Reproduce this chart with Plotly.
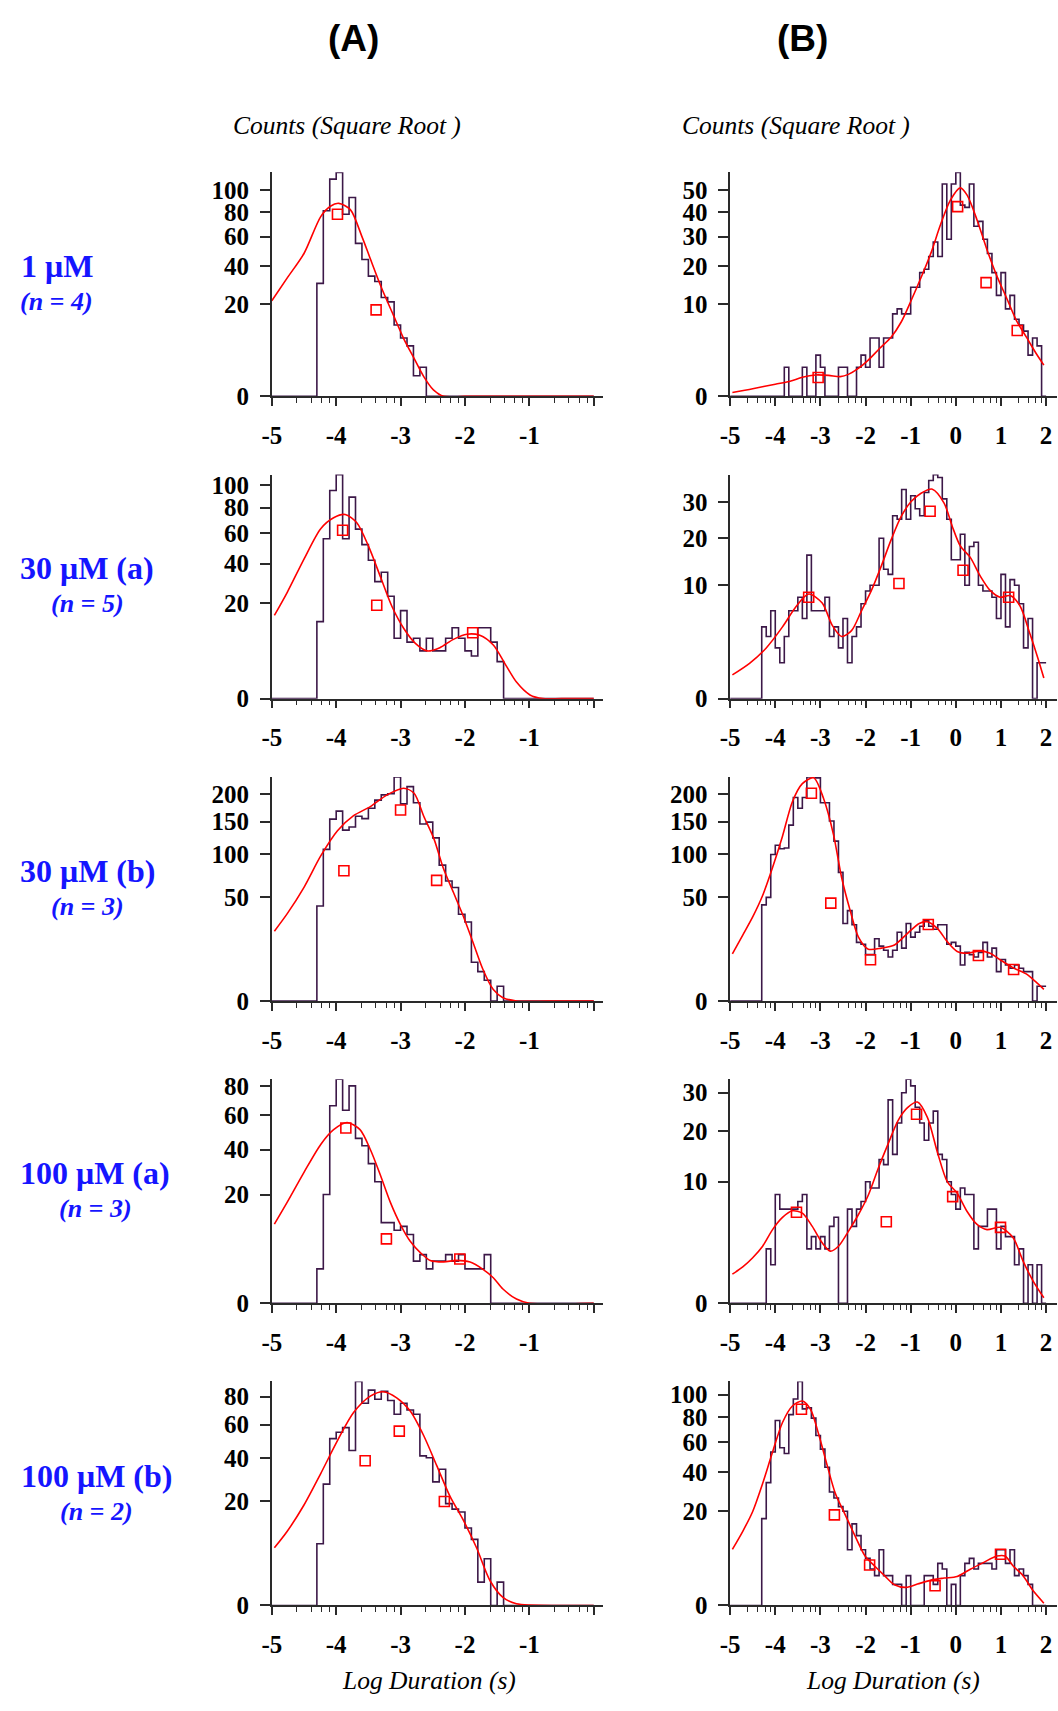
import numpy as np
import plotly.graph_objects as go

W, H = 1058, 1711

# ---------------- data (counts per 0.1-decade bin, starting at the given left edge) -------------
a1_start = -4.3
a1_counts = [30, 81, 111, 118, 78, 93, 55, 44, 34, 31, 23, 21, 12, 8, 6, 1, 2]
a1_fit_x = [-5.0, -4.76, -4.5, -4.24, -4.09, -3.96, -3.78, -3.6, -3.47, -3.3, -3.11, -2.95, -2.79, -2.64, -2.49, -2.33, -2.0, -1.0, 0.0]
a1_fit_y = [21.5, 33, 48, 76, 85, 87.6, 82, 60, 44.5, 28, 15.4, 7.8, 3.4, 0.92, 0.1, 0.0, 0, 0, 0]
a1_pts_x = [-3.98, -3.38]
a1_pts_y = [78, 17.6]

b1_start = -3.8
b1_counts = [1, 0, 0, 0, 1, 0, 0, 2, 1, 0, 0, 0, 1, 1, 0, 0, 1, 2, 1, 4, 4, 1, 4, 4, 8, 9, 8, 8,
             14, 14, 18, 19, 23, 28, 23, 53, 29, 53, 59, 43, 42, 53, 34, 36, 29, 24, 18, 12, 18, 9,
             12, 7, 6, 5, 2, 4, 3]
b1_fit_x = [-4.95, -4.5, -4.0, -3.69, -3.4, -3.11, -2.82, -2.56, -2.38, -2.16, -1.94, -1.69, -1.43, -1.21,
            -0.99, -0.77, -0.55, -0.34, -0.12, 0.10, 0.25, 0.47, 0.69, 0.91, 1.12, 1.34, 1.56, 1.78, 1.95]
b1_fit_y = [0.018, 0.068, 0.175, 0.26, 0.43, 0.54, 0.52, 0.46, 0.57, 0.92, 1.55, 2.69, 4.15, 6.5,
            10.8, 16.6, 24.2, 34.6, 45.3, 51.1, 47.6, 36.6, 25.3, 17.0, 11.5, 6.8, 4.15, 2.16, 1.15]
b1_pts_x = [-3.05, 0.04, 0.67, 1.36]
b1_pts_y = [0.42, 42.3, 15.2, 5.1]

a2_start = -4.3
a2_counts = [13, 56, 95, 110, 56, 89, 63, 52, 42, 30, 35, 23, 8, 17, 7, 8, 5, 8, 5, 5, 8, 11, 8, 5, 4, 11, 11, 7, 3]
a2_fit_x = [-4.96, -4.76, -4.5, -4.24, -4.04, -3.86, -3.68, -3.5, -3.31, -3.13, -2.95, -2.77, -2.59, -2.39,
            -2.18, -1.97, -1.77, -1.56, -1.38, -1.2, -0.99, -0.79, -0.5, 0.0]
a2_fit_y = [15.2, 24.8, 42.7, 63.3, 71.7, 74.3, 67.8, 51.1, 32.3, 18.4, 10.8, 6.7, 5.0, 5.7,
            7.7, 9.1, 8.8, 6.3, 2.7, 0.6, 0.03, 0.0, 0, 0]
a2_pts_x = [-3.90, -3.37, -1.88]
a2_pts_y = [62.1, 19.1, 9.5]

b2_start = -4.3
b2_counts = [4, 3, 6, 2, 1, 3, 6, 6, 8, 5, 16, 6, 6, 6, 8, 3, 4, 2, 5, 1, 3, 4, 7, 9, 10, 10, 20, 13, 12, 26,
             25, 34, 25, 32, 28, 26, 33, 37, 39, 38, 31, 25, 15, 15, 21, 10, 18, 19, 10, 9, 9, 8, 5, 12, 4,
             11, 10, 7, 2, 5, 0, 1, 1]
b2_fit_x = [-4.95, -4.57, -4.2, -3.84, -3.55, -3.26, -2.96, -2.74, -2.53, -2.31, -2.09, -1.87, -1.65, -1.43,
            -1.21, -0.99, -0.77, -0.52, -0.26, -0.08, 0.10, 0.32, 0.54, 0.76, 0.98, 1.2, 1.42, 1.64, 1.82, 1.95]
b2_fit_y = [0.44, 0.97, 2.0, 4.0, 6.5, 8.5, 7.1, 4.2, 3.0, 3.6, 6.0, 9.1, 13.7, 19.7,
            25.8, 30.2, 32.8, 34.1, 29.7, 23.1, 18.1, 15.5, 11.7, 9.1, 8.0, 8.25, 6.7, 3.3, 1.26, 0.33]
b2_pts_x = [-3.26, -1.26, -0.57, 0.16, 1.17]
b2_pts_y = [8.0, 10.3, 27.3, 12.8, 8.0]

a3_start = -4.3
a3_counts = [42, 107, 154, 168, 136, 141, 159, 155, 173, 188, 198, 200, 234, 181, 214, 183, 146, 149, 124,
             86, 67, 60, 35, 29, 7, 4, 2, 0, 1]
a3_fit_x = [-4.96, -4.76, -4.5, -4.24, -3.98, -3.73, -3.47, -3.21, -2.95, -2.79, -2.64, -2.48, -2.34, -2.18,
            -2.03, -1.87, -1.72, -1.56, -1.41, -1.2, -0.5, 0.0]
a3_fit_y = [22.7, 35.5, 60.2, 98, 135, 160, 176, 198, 211, 201, 159, 122, 83, 55,
            34, 15.5, 4.6, 0.6, 0.05, 0, 0, 0]
a3_pts_x = [-3.88, -3.0, -2.44]
a3_pts_y = [79, 170, 67.8]

b3_start = -4.3
b3_counts = [43, 50, 100, 113, 108, 109, 144, 193, 173, 193, 234, 234, 232, 183, 183, 151, 119, 77, 28, 38,
             27, 16, 15, 10, 10, 18, 14, 12, 9, 12, 22, 13, 28, 19, 22, 26, 30, 26, 24, 27,
             27, 15, 16, 14, 6, 11, 10, 9, 11, 16, 9, 13, 4, 8, 6, 5, 6, 5, 4, 4, 0, 1, 1]
b3_fit_x = [-4.95, -4.72, -4.5, -4.28, -4.06, -3.84, -3.62, -3.4, -3.15, -2.93, -2.71, -2.53, -2.34, -2.16,
            -1.94, -1.65, -1.36, -1.07, -0.81, -0.63, -0.41, -0.19, 0.03, 0.25, 0.54, 0.76, 0.98, 1.27,
            1.56, 1.78, 1.95]
b3_fit_y = [10.3, 20.2, 32.9, 51.8, 83, 126.5, 185, 220, 232, 191, 129, 71, 38, 19.2,
            12.5, 13.0, 14.6, 21.3, 28, 29.2, 24.5, 16.4, 11.4, 10.6, 11.7, 10.6, 7.9, 5.1,
            3.4, 1.64, 0.62]
b3_pts_x = [-3.2, -2.77, -1.89, -0.61, 0.50, 1.28]
b3_pts_y = [201, 44.6, 7.9, 27.2, 9.6, 4.6]

a4_start = -4.3
a4_counts = [2, 20, 66, 85, 63, 80, 46, 42, 33, 25, 11, 11, 9, 10, 8, 3, 4, 2, 3, 3, 4, 3, 4, 2, 2, 2, 4]
a4_fit_x = [-4.96, -4.76, -4.5, -4.24, -4.04, -3.83, -3.63, -3.47, -3.31, -3.16, -3.0, -2.85, -2.69, -2.54,
            -2.33, -2.13, -1.92, -1.72, -1.56, -1.41, -1.2, -1.0, 0.0]
a4_fit_y = [10.6, 17.3, 29, 42.7, 51, 55.3, 51, 40, 27.5, 17.3, 10.4, 6.5, 4.3, 3.1,
            2.9, 3.1, 2.86, 1.94, 1.1, 0.34, 0.03, 0, 0]
a4_pts_x = [-3.85, -3.22, -2.08]
a4_pts_y = [52, 7.0, 3.3]

b4_start = -4.2
b4_counts = [2, 1, 8, 6, 6, 6, 6, 7, 8, 2, 3, 2, 3, 2, 4, 5, 0, 0, 6, 4,
             6, 7, 10, 9, 9, 14, 13, 28, 15, 22, 30, 34, 32, 26, 22, 18, 22, 25, 15, 14,
             10, 8, 6, 9, 8, 8, 2, 4, 4, 6, 6, 2, 4, 3, 3, 1, 2, 0, 1, 0, 1]
b4_fit_x = [-4.95, -4.72, -4.5, -4.28, -4.06, -3.84, -3.62, -3.4, -3.18, -2.96, -2.78, -2.6, -2.38, -2.16,
            -1.94, -1.72, -1.5, -1.28, -1.07, -0.85, -0.63, -0.41, -0.19, 0.03, 0.25, 0.47, 0.69, 0.98,
            1.27, 1.49, 1.71, 1.95]
b4_fit_y = [0.57, 0.89, 1.4, 2.2, 3.67, 4.98, 5.78, 5.5, 4.0, 2.47, 1.84, 2.2, 3.5, 5.3,
            7.9, 12.3, 17.2, 22.6, 25.9, 27.4, 23.4, 15.5, 10, 8.2, 5.7, 4.2, 3.67, 3.9,
            2.9, 1.2, 0.34, 0.02]
b4_pts_x = [-3.53, -1.54, -0.87, -0.07, 0.99]
b4_pts_y = [5.6, 4.5, 24.2, 7.7, 3.9]

a5_start = -4.3
a5_counts = [7, 27, 51, 55, 58, 44, 92, 75, 85, 78, 84, 77, 67, 75, 70, 67, 41, 40, 28, 34, 19, 17, 16, 11,
             8, 1, 4, 0, 1]
a5_fit_x = [-4.96, -4.76, -4.5, -4.24, -3.98, -3.73, -3.47, -3.27, -3.06, -2.85, -2.64, -2.44, -2.23, -2.03,
            -1.82, -1.61, -1.41, -1.2, -0.5, 0.0]
a5_fit_y = [6.1, 10.1, 18.5, 31.9, 49.8, 68.2, 80.3, 83.7, 79, 69.3, 52.8, 36, 21.7, 13.5,
            6.1, 1.12, 0.12, 0.005, 0, 0]
a5_pts_x = [-3.55, -3.02, -2.32]
a5_pts_y = [38.4, 55.7, 19.8]

b5_start = -4.3
b5_counts = [17, 34, 53, 77, 56, 52, 82, 96, 113, 87, 88, 79, 65, 55, 43, 29, 26, 22, 20, 7,
             15, 11, 7, 5, 3, 2, 7, 2, 2, 1, 1, 0, 2, 0, 0, 0, 2, 2, 1, 4,
             3, 0, 1, 0, 2, 4, 5, 3, 4, 4, 4, 3, 7, 7, 4, 7, 2, 3, 2, 1]
b5_fit_x = [-4.95, -4.72, -4.5, -4.28, -4.06, -3.84, -3.62, -3.4, -3.22, -3.04, -2.85, -2.67, -2.45, -2.23,
            -2.01, -1.8, -1.58, -1.36, -1.1, -0.85, -0.55, -0.26, 0.03, 0.32, 0.61, 0.91, 1.09, 1.27,
            1.49, 1.71, 1.95]
b5_fit_y = [7.1, 12.4, 19.9, 33.5, 53, 75.4, 89.6, 94.1, 86.7, 66.2, 44.2, 28.3, 18.5, 10.8,
            5.5, 3.5, 2.0, 0.97, 0.74, 1.03, 1.45, 1.69, 1.9, 2.96, 4.14, 5.5, 5.5, 3.5,
            2.0, 0.5, 0.012]
b5_pts_x = [-3.42, -2.69, -1.91, -0.46, 0.99]
b5_pts_y = [86.7, 18.5, 3.7, 0.88, 5.9]

# y tick labels (counts) for each panel
a1_yticks = [0, 20, 40, 60, 80, 100]
b1_yticks = [0, 10, 20, 30, 40, 50]
a2_yticks = [0, 20, 40, 60, 80, 100]
b2_yticks = [0, 10, 20, 30]
a3_yticks = [0, 50, 100, 150, 200]
b3_yticks = [0, 50, 100, 150, 200]
a4_yticks = [0, 20, 40, 60, 80]
b4_yticks = [0, 10, 20, 30]
a5_yticks = [0, 20, 40, 60, 80]
b5_yticks = [0, 20, 40, 60, 80, 100]

a_xticks = [-5, -4, -3, -2, -1, 0]
a_xlabels = ["-5", "-4", "-3", "-2", "-1", ""]
b_xticks = [-5, -4, -3, -2, -1, 0, 1, 2]
b_xlabels = ["-5", "-4", "-3", "-2", "-1", "0", "1", "2"]
minor_offsets = [0.39, 0.615, 0.775, 0.90]

row_labels = ["1 \u03bcM", "30 \u03bcM (a)", "30 \u03bcM (b)", "100 \u03bcM (a)", "100 \u03bcM (b)"]
row_n = ["4", "5", "3", "3", "2"]
col_titles = ["(A)", "(B)"]

panels = [
    (a1_start, a1_counts, a1_fit_x, a1_fit_y, a1_pts_x, a1_pts_y, a1_yticks),
    (b1_start, b1_counts, b1_fit_x, b1_fit_y, b1_pts_x, b1_pts_y, b1_yticks),
    (a2_start, a2_counts, a2_fit_x, a2_fit_y, a2_pts_x, a2_pts_y, a2_yticks),
    (b2_start, b2_counts, b2_fit_x, b2_fit_y, b2_pts_x, b2_pts_y, b2_yticks),
    (a3_start, a3_counts, a3_fit_x, a3_fit_y, a3_pts_x, a3_pts_y, a3_yticks),
    (b3_start, b3_counts, b3_fit_x, b3_fit_y, b3_pts_x, b3_pts_y, b3_yticks),
    (a4_start, a4_counts, a4_fit_x, a4_fit_y, a4_pts_x, a4_pts_y, a4_yticks),
    (b4_start, b4_counts, b4_fit_x, b4_fit_y, b4_pts_x, b4_pts_y, b4_yticks),
    (a5_start, a5_counts, a5_fit_x, a5_fit_y, a5_pts_x, a5_pts_y, a5_yticks),
    (b5_start, b5_counts, b5_fit_x, b5_fit_y, b5_pts_x, b5_pts_y, b5_yticks),
]

# ---------------- style / layout -------------
HIST_COLOR = "#3c1848"
FIT_COLOR = "#ff0000"
AX_COLOR = "#2a2a2a"
BLUE = "#1515ff"
SERIF = "Liberation Serif, Times New Roman, serif"
SANS = "Liberation Sans, Arial, sans-serif"


def px_x(p):   # page pixel -> paper x
    return min(1.0, max(0.0, p / W))


def px_y(p):   # page pixel -> paper y
    return min(1.0, max(0.0, 1 - p / H))


# left px of the -5 position, right px of the axis line, px per decade
col_geom = [(264.3, 599.0, 65.0), (727.0, 1057.0, 45.57)]
col_end = [0.0, 2.0]
row_bottom0, row_pitch, plot_h = 395.0, 305.85, 226.7

fig = go.Figure()
layout_axes = {}

for i, (start, counts, fx, fy, px, py, yt) in enumerate(panels):
    r, c = divmod(i, 2)
    n = i + 1
    xa = "x" if n == 1 else f"x{n}"
    ya = "y" if n == 1 else f"y{n}"

    end = col_end[c]
    nbins = int(round((end + 5.0) / 0.1))
    full = np.zeros(nbins)
    i0 = int(round((start + 5.0) / 0.1))
    full[i0:i0 + len(counts)] = counts
    edges = -5.0 + 0.1 * np.arange(nbins + 1)
    hy = np.sqrt(np.append(full, full[-1]))

    fig.add_trace(go.Scatter(x=edges, y=hy, mode="lines", line=dict(color=HIST_COLOR, width=1.6, shape="hv"),
                             xaxis=xa, yaxis=ya, showlegend=False, cliponaxis=False, hoverinfo="skip"))
    fig.add_trace(go.Scatter(x=fx, y=np.sqrt(np.array(fy, dtype=float)), mode="lines",
                             line=dict(color=FIT_COLOR, width=1.6, shape="spline", smoothing=0.8),
                             xaxis=xa, yaxis=ya, showlegend=False, cliponaxis=False, hoverinfo="skip"))
    fig.add_trace(go.Scatter(x=px, y=np.sqrt(np.array(py, dtype=float)), mode="markers",
                             marker=dict(symbol="square-open", size=10, color=FIT_COLOR, line=dict(width=1.6)),
                             xaxis=xa, yaxis=ya, showlegend=False, cliponaxis=False, hoverinfo="skip"))

    lpx, rpx_want, ppd = col_geom[c]
    rpx = min(rpx_want, W)
    xmax = -5 + (rpx - lpx) / ppd
    bottom = row_bottom0 + row_pitch * r
    top = bottom - plot_h
    ymax = float(np.sqrt(max(counts)))

    if c == 0:
        tv, tt = a_xticks, a_xlabels
    else:
        tv, tt = b_xticks, b_xlabels
    minors = [d + o for d in range(-5, int(end)) for o in minor_offsets]

    layout_axes["xaxis" if n == 1 else f"xaxis{n}"] = dict(
        domain=[px_x(lpx), px_x(rpx)], range=[-5, xmax], anchor=ya,
        showline=True, linecolor=AX_COLOR, linewidth=1.5, showgrid=False, zeroline=False,
        ticks="outside", ticklen=8, tickwidth=1.8, tickcolor=AX_COLOR,
        tickmode="array", tickvals=tv, ticktext=tt, ticklabelstandoff=8,
        tickfont=dict(family=SERIF, size=25, color="black", weight="bold"),
        minor=dict(tickmode="array", tickvals=minors, ticks="outside", ticklen=5, tickwidth=1.3,
                   tickcolor=AX_COLOR),
        fixedrange=True,
    )
    layout_axes["yaxis" if n == 1 else f"yaxis{n}"] = dict(
        domain=[px_y(bottom), px_y(top)], range=[0, ymax], anchor=xa,
        showline=True, linecolor=AX_COLOR, linewidth=1.5, showgrid=False, zeroline=False,
        ticks="outside", ticklen=10, tickwidth=1.5, tickcolor=AX_COLOR,
        tickmode="array", tickvals=list(np.sqrt(np.array(yt, dtype=float))), ticktext=[str(v) for v in yt],
        ticklabelstandoff=6,
        tickfont=dict(family=SERIF, size=25, color="black", weight="bold"),
        fixedrange=True,
    )

annotations = []
# column titles
for cx, title in zip([347, 800], col_titles):
    annotations.append(dict(text=f"<b>{title}</b>", x=px_x(cx), y=px_y(33), xref="paper", yref="paper",
                            showarrow=False, xanchor="center", yanchor="middle",
                            font=dict(family=SANS, size=37, color="black")))
# y axis titles
for cx in [340, 794]:
    annotations.append(dict(text="<i>Counts (Square Root )</i>", x=px_x(cx), y=px_y(121), xref="paper",
                            yref="paper", showarrow=False, xanchor="center", yanchor="middle",
                            font=dict(family=SERIF, size=25.5, color="black")))
# x axis titles
for cx in [423, 891]:
    annotations.append(dict(text="<i>Log Duration (s)</i>", x=px_x(cx), y=px_y(1694), xref="paper",
                            yref="paper", showarrow=False, xanchor="center", yanchor="middle",
                            font=dict(family=SERIF, size=25.5, color="black")))
# row labels
row_cx = [47, 78, 78.5, 86, 87]
row_y1 = [263, 569, 875, 1181, 1487]
for r in range(5):
    annotations.append(dict(text=f"<b>{row_labels[r]}</b>", x=px_x(row_cx[r]), y=px_y(row_y1[r]),
                            xref="paper", yref="paper", showarrow=False, xanchor="center", yanchor="middle",
                            font=dict(family=SERIF, size=32, color=BLUE)))
    annotations.append(dict(text=f"<b><i>(n = {row_n[r]})</i></b>", x=px_x(row_cx[r]), y=px_y(row_y1[r] + 36),
                            xref="paper", yref="paper", showarrow=False, xanchor="center", yanchor="middle",
                            font=dict(family=SERIF, size=26, color=BLUE)))

fig.update_layout(width=W, height=H, margin=dict(l=0, r=0, t=0, b=0),
                  paper_bgcolor="white", plot_bgcolor="white", showlegend=False,
                  annotations=annotations, **layout_axes)

fig.write_html("out.html")
